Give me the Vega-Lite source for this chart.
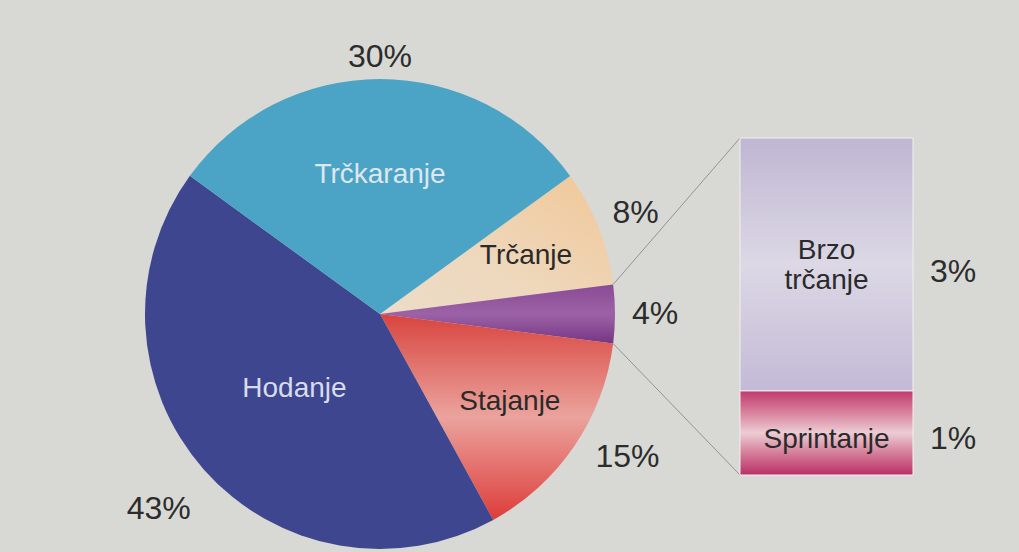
{
  "$schema": "https://vega.github.io/schema/vega-lite/v6.json",
  "width": 760,
  "height": 476,
  "autosize": {"type": "none"},
  "padding": {"left": 0, "top": 76, "right": 259, "bottom": 0},
  "background": "#d8d9d4",
  "config": {"view": {"stroke": null}, "text": {"font": "Liberation Sans"}},
  "datasets": {
    "pita": [
      {"aktivnost": "Trčanje", "postotak": 8, "oznaka": "8%", "red": 1},
      {"aktivnost": "Brzo trčanje i sprintanje", "postotak": 4, "oznaka": "4%", "red": 2},
      {"aktivnost": "Stajanje", "postotak": 15, "oznaka": "15%", "red": 3},
      {"aktivnost": "Hodanje", "postotak": 43, "oznaka": "43%", "red": 4},
      {"aktivnost": "Trčkaranje", "postotak": 30, "oznaka": "30%", "red": 5}
    ],
    "stupac": [
      {"aktivnost": "Sprintanje", "postotak": 1, "oznaka": "1%", "red": 1},
      {"aktivnost": "Brzo trčanje", "postotak": 3, "oznaka": "3%", "red": 2}
    ],
    "spoj": [{"rub": "gornji"}]
  },
  "layer": [
    {
      "data": {"name": "pita"},
      "mark": {"type": "arc", "outerRadius": 235},
      "encoding": {
        "theta": {"field": "postotak", "type": "quantitative", "stack": true, "scale": {"range": [0.9425, 7.2257]}},
        "order": {"field": "red", "type": "quantitative"},
        "detail": {"field": "aktivnost", "type": "nominal"},
        "fill": {
          "condition": [
            {"test": "datum.aktivnost === 'Trčkaranje'", "value": "#4ba4c5"},
            {"test": "datum.aktivnost === 'Trčanje'", "value": {"gradient": "linear", "x1": 1, "y1": 0, "x2": 0, "y2": 1, "stops": [{"offset": 0, "color": "#f1c797"}, {"offset": 0.6, "color": "#eed8bd"}, {"offset": 1, "color": "#ecdcc8"}]}},
            {"test": "datum.aktivnost === 'Stajanje'", "value": {"gradient": "linear", "x1": 0, "y1": 0, "x2": 0, "y2": 1, "stops": [{"offset": 0, "color": "#d9443e"}, {"offset": 0.5, "color": "#eba39d"}, {"offset": 1, "color": "#dd3c3a"}]}},
            {"test": "datum.aktivnost === 'Brzo trčanje i sprintanje'", "value": {"gradient": "linear", "x1": 0, "y1": 0, "x2": 0, "y2": 1, "stops": [{"offset": 0, "color": "#8a4b95"}, {"offset": 0.5, "color": "#9c62a6"}, {"offset": 1, "color": "#763683"}]}}
          ],
          "value": "#3e468f"
        }
      }
    },
    {
      "data": {"name": "pita"},
      "mark": {"type": "text", "radius": 257, "fontSize": 32, "color": "#2c2c2c"},
      "encoding": {
        "theta": {"field": "postotak", "type": "quantitative", "stack": true},
        "order": {"field": "red", "type": "quantitative"},
        "detail": {"field": "aktivnost", "type": "nominal"},
        "text": {"condition": {"test": "datum.aktivnost === 'Trčkaranje'", "field": "oznaka"}, "value": ""}
      }
    },
    {
      "data": {"name": "pita"},
      "mark": {"type": "text", "radius": 275, "fontSize": 32, "color": "#2c2c2c"},
      "encoding": {
        "theta": {"field": "postotak", "type": "quantitative", "stack": true},
        "order": {"field": "red", "type": "quantitative"},
        "detail": {"field": "aktivnost", "type": "nominal"},
        "text": {"condition": {"test": "datum.aktivnost === 'Trčanje' || datum.aktivnost === 'Brzo trčanje i sprintanje'", "field": "oznaka"}, "value": ""}
      }
    },
    {
      "data": {"name": "pita"},
      "mark": {"type": "text", "radius": 286, "fontSize": 32, "color": "#2c2c2c", "dx": 11, "dy": -18},
      "encoding": {
        "theta": {"field": "postotak", "type": "quantitative", "stack": true},
        "order": {"field": "red", "type": "quantitative"},
        "detail": {"field": "aktivnost", "type": "nominal"},
        "text": {"condition": {"test": "datum.aktivnost === 'Stajanje'", "field": "oznaka"}, "value": ""}
      }
    },
    {
      "data": {"name": "pita"},
      "mark": {"type": "text", "radius": 295, "fontSize": 32, "color": "#2c2c2c"},
      "encoding": {
        "theta": {"field": "postotak", "type": "quantitative", "stack": true},
        "order": {"field": "red", "type": "quantitative"},
        "detail": {"field": "aktivnost", "type": "nominal"},
        "text": {"condition": {"test": "datum.aktivnost === 'Hodanje'", "field": "oznaka"}, "value": ""}
      }
    },
    {
      "data": {"name": "pita"},
      "mark": {"type": "text", "radius": 139, "fontSize": 28, "color": "#dfe7ee"},
      "encoding": {
        "theta": {"field": "postotak", "type": "quantitative", "stack": true},
        "order": {"field": "red", "type": "quantitative"},
        "detail": {"field": "aktivnost", "type": "nominal"},
        "text": {"condition": {"test": "datum.aktivnost === 'Trčkaranje'", "field": "aktivnost"}, "value": ""}
      }
    },
    {
      "data": {"name": "pita"},
      "mark": {"type": "text", "radius": 114, "fontSize": 28, "color": "#d8dcea"},
      "encoding": {
        "theta": {"field": "postotak", "type": "quantitative", "stack": true},
        "order": {"field": "red", "type": "quantitative"},
        "detail": {"field": "aktivnost", "type": "nominal"},
        "text": {"condition": {"test": "datum.aktivnost === 'Hodanje'", "field": "aktivnost"}, "value": ""}
      }
    },
    {
      "data": {"name": "pita"},
      "mark": {"type": "text", "radius": 157, "fontSize": 28, "color": "#2a2a2a"},
      "encoding": {
        "theta": {"field": "postotak", "type": "quantitative", "stack": true},
        "order": {"field": "red", "type": "quantitative"},
        "detail": {"field": "aktivnost", "type": "nominal"},
        "text": {"condition": {"test": "datum.aktivnost === 'Trčanje' || datum.aktivnost === 'Stajanje'", "field": "aktivnost"}, "value": ""}
      }
    },
    {
      "data": {"name": "spoj"},
      "mark": {"type": "rule", "color": "#94948f", "strokeWidth": 1},
      "encoding": {
        "x": {"datum": -0.7335, "type": "quantitative", "scale": {"domain": [0, 1], "range": [740, 913], "nice": false, "zero": false}, "axis": null},
        "x2": {"datum": 0},
        "y": {"datum": 2.261, "type": "quantitative", "scale": {"domain": [0, 4], "range": [399, 62], "nice": false, "zero": false}, "axis": null},
        "y2": {"datum": 4}
      }
    },
    {
      "data": {"name": "spoj"},
      "mark": {"type": "rule", "color": "#94948f", "strokeWidth": 1},
      "encoding": {
        "x": {"datum": -0.7335, "type": "quantitative"},
        "x2": {"datum": 0},
        "y": {"datum": 1.561, "type": "quantitative"},
        "y2": {"datum": 0}
      }
    },
    {
      "data": {"name": "stupac"},
      "transform": [
        {"stack": "postotak", "groupby": [], "sort": [{"field": "red", "order": "ascending"}], "as": ["dno", "vrh"]}
      ],
      "mark": {"type": "bar", "stroke": "#f3eef0", "strokeWidth": 1},
      "encoding": {
        "x": {"datum": 0, "type": "quantitative"},
        "x2": {"datum": 1},
        "y": {"field": "dno", "type": "quantitative"},
        "y2": {"field": "vrh"},
        "fill": {
          "condition": {"test": "datum.aktivnost === 'Sprintanje'", "value": {"gradient": "linear", "x1": 0, "y1": 0, "x2": 0, "y2": 1, "stops": [{"offset": 0, "color": "#c03a6d"}, {"offset": 0.25, "color": "#d77f9b"}, {"offset": 0.5, "color": "#ecccd4"}, {"offset": 0.75, "color": "#d47a97"}, {"offset": 1, "color": "#b92f66"}]}},
          "value": {"gradient": "linear", "x1": 0, "y1": 0, "x2": 0, "y2": 1, "stops": [{"offset": 0, "color": "#bfb6d3"}, {"offset": 0.5, "color": "#dcd8e5"}, {"offset": 1, "color": "#c3bad6"}]}
        }
      }
    },
    {
      "data": {"name": "stupac"},
      "mark": {"type": "text", "fontSize": 28, "color": "#2a2a2a", "lineBreak": " ", "lineHeight": 30, "dy": 113},
      "encoding": {
        "x": {"datum": 0.5, "type": "quantitative"},
        "y": {"field": "postotak", "type": "quantitative", "stack": true},
        "order": {"field": "red", "type": "quantitative"},
        "detail": {"field": "aktivnost", "type": "nominal"},
        "text": {"condition": {"test": "datum.aktivnost === 'Brzo trčanje'", "field": "aktivnost"}, "value": ""}
      }
    },
    {
      "data": {"name": "stupac"},
      "mark": {"type": "text", "fontSize": 28, "color": "#2a2a2a", "dy": 49},
      "encoding": {
        "x": {"datum": 0.5, "type": "quantitative"},
        "y": {"field": "postotak", "type": "quantitative", "stack": true},
        "order": {"field": "red", "type": "quantitative"},
        "detail": {"field": "aktivnost", "type": "nominal"},
        "text": {"condition": {"test": "datum.aktivnost === 'Sprintanje'", "field": "aktivnost"}, "value": ""}
      }
    },
    {
      "data": {"name": "stupac"},
      "mark": {"type": "text", "fontSize": 32, "color": "#2c2c2c", "align": "left", "dy": 134},
      "encoding": {
        "x": {"datum": 1.098, "type": "quantitative"},
        "y": {"field": "postotak", "type": "quantitative", "stack": true},
        "order": {"field": "red", "type": "quantitative"},
        "detail": {"field": "aktivnost", "type": "nominal"},
        "text": {"condition": {"test": "datum.aktivnost === 'Brzo trčanje'", "field": "oznaka"}, "value": ""}
      }
    },
    {
      "data": {"name": "stupac"},
      "mark": {"type": "text", "fontSize": 32, "color": "#2c2c2c", "align": "left", "dy": 48},
      "encoding": {
        "x": {"datum": 1.098, "type": "quantitative"},
        "y": {"field": "postotak", "type": "quantitative", "stack": true},
        "order": {"field": "red", "type": "quantitative"},
        "detail": {"field": "aktivnost", "type": "nominal"},
        "text": {"condition": {"test": "datum.aktivnost === 'Sprintanje'", "field": "oznaka"}, "value": ""}
      }
    }
  ]
}
